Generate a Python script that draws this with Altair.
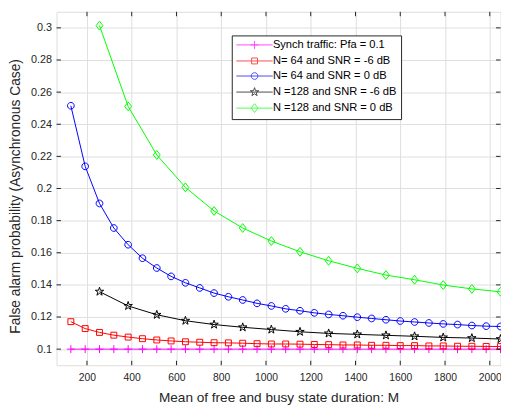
import altair as alt
import pandas as pd

# ---------------- data ----------------
M_step64 = [128, 192, 256, 320, 384, 448, 512, 576, 640, 704, 768, 832, 896, 960, 1024,
            1088, 1152, 1216, 1280, 1344, 1408, 1472, 1536, 1600, 1664, 1728, 1792, 1856,
            1920, 1984, 2048]
M_step128 = [256, 384, 512, 640, 768, 896, 1024, 1152, 1280, 1408, 1536, 1664, 1792, 1920, 2048]

pfa_sync = [0.1] * 31
pfa_n64_m6 = [0.1171, 0.1128, 0.1104, 0.1087, 0.1075, 0.1065, 0.1057, 0.1051, 0.1046, 0.1043,
              0.1040, 0.1039, 0.1037, 0.1034, 0.1032, 0.1032, 0.1031, 0.1029, 0.1028, 0.1026,
              0.1026, 0.1024, 0.1024, 0.1022, 0.1022, 0.1020, 0.1020, 0.1018, 0.1018, 0.1017,
              0.1016]
pfa_n64_0 = [0.2515, 0.2138, 0.1907, 0.1754, 0.1650, 0.1566, 0.1505, 0.1453, 0.1413, 0.1381,
             0.1349, 0.1326, 0.1306, 0.1285, 0.1269, 0.1251, 0.1239, 0.1226, 0.1216, 0.1208,
             0.1199, 0.1191, 0.1183, 0.1175, 0.1169, 0.1163, 0.1157, 0.1153, 0.1147, 0.1143,
             0.1141]
pfa_n128_m6 = [0.1358, 0.1269, 0.1214, 0.1177, 0.1153, 0.1136, 0.1122, 0.1108, 0.1098, 0.1092,
               0.1086, 0.1080, 0.1073, 0.1069, 0.1063]
pfa_n128_0 = [0.3014, 0.2511, 0.2209, 0.2007, 0.1860, 0.1754, 0.1673, 0.1606, 0.1550, 0.1503,
              0.1461, 0.1432, 0.1399, 0.1375, 0.1357]

series_names = ["Synch traffic: Pfa = 0.1", "N= 64 and SNR = -6 dB", "N= 64 and SNR = 0 dB",
                "N =128 and SNR = -6 dB", "N =128 and SNR = 0 dB"]
series_colors = ["#ff00ff", "#ff0000", "#0000ff", "#000000", "#00ff00"]
series_x = [M_step64, M_step64, M_step64, M_step128, M_step128]
series_y = [pfa_sync, pfa_n64_m6, pfa_n64_0, pfa_n128_m6, pfa_n128_0]

x_ticks = [200, 400, 600, 800, 1000, 1200, 1400, 1600, 1800, 2000]
y_ticks = [0.1, 0.12, 0.14, 0.16, 0.18, 0.2, 0.22, 0.24, 0.26, 0.28, 0.3]

x_title = "Mean of free and busy state duration: M"
y_title = "False alarm probability (Asynchronous Case)"

# ---------------- marker shapes (size=100 -> 5 px per unit) ----------------
plus_p = "M0,-0.8V0.8M-0.8,0H0.8"
square_p = "M-0.6,-0.6H0.6V0.6H-0.6Z"
circle_p = "M0.68,0A0.68,0.68,0,1,1,-0.68,0A0.68,0.68,0,1,1,0.68,0Z"
star_pts = [(0, -1), (0.2245, -0.309), (0.9511, -0.309), (0.3633, 0.118), (0.5878, 0.809),
            (0, 0.382), (-0.5878, 0.809), (-0.3633, 0.118), (-0.9511, -0.309), (-0.2245, -0.309)]
star_p = "M" + "L".join(f"{x*0.9:.3f},{y*0.9:.3f}" for x, y in star_pts) + "Z"
diamond_p = "M0,-0.9L0.7,0L0,0.9L-0.7,0Z"
marker_paths = [plus_p, square_p, circle_p, star_p, diamond_p]
legend_paths = ["M-3.7,0H3.7" + p for p in marker_paths]

W, H = 451, 359
xdom = [64, 2048]
ydom = [0.09, 0.31]
ink = "#262626"
FONT = "Liberation Sans"

xscale = alt.Scale(domain=xdom, nice=False, zero=False)
yscale = alt.Scale(domain=ydom, nice=False, zero=False)

x_axis = alt.Axis(values=x_ticks, format="d", grid=True, gridColor="#dedede", gridWidth=1,
                  ticks=False, tickSize=0, domain=False, labelFont=FONT,
                  labelFontSize=10.5, labelColor=ink, labelPadding=8, title=x_title,
                  titleFont=FONT, titleFontSize=13.8, titleFontWeight="normal",
                  titleColor=ink, titleBaseline="alphabetic", titleY=36.4)
y_axis = alt.Axis(values=y_ticks, format="~g", grid=True, gridColor="#dedede", gridWidth=1,
                  ticks=False, tickSize=0, domain=False, labelFont=FONT,
                  labelFontSize=11, labelColor=ink, labelPadding=5, title=y_title,
                  titleFont=FONT, titleFontSize=14, titleFontWeight="normal",
                  titleColor=ink, titleBaseline="alphabetic", titleX=-38, titleY=187)

rows = []
for name, xs, ys in zip(series_names, series_x, series_y):
    for xv, yv in zip(xs, ys):
        rows.append({"series": name, "M": xv, "pfa": yv})
df = pd.DataFrame(rows)

xenc = alt.X("M:Q", scale=xscale, axis=x_axis, title=x_title)
yenc = alt.Y("pfa:Q", scale=yscale, axis=y_axis, title=y_title)

layers = []
for name, col, mp in zip(series_names, series_colors, marker_paths):
    base = alt.Chart(df).transform_filter(alt.datum.series == name)
    layers.append(base.mark_line(color=col, strokeWidth=1).encode(x=xenc, y=yenc))
    layers.append(base.mark_point(shape=mp, size=100, color=col, filled=False,
                                  strokeWidth=1, opacity=1).encode(x=xenc, y=yenc))

# inward ticks on all four sides
xt = pd.DataFrame({"M": x_ticks})
yt = pd.DataFrame({"pfa": y_ticks})
tick_len = 4.5
layers.append(alt.Chart(xt).mark_rule(color=ink, strokeWidth=1).encode(
    x=xenc, y=alt.value(H), y2=alt.value(H - tick_len)))
layers.append(alt.Chart(xt).mark_rule(color=ink, strokeWidth=1).encode(
    x=xenc, y=alt.value(0), y2=alt.value(tick_len)))
layers.append(alt.Chart(yt).mark_rule(color=ink, strokeWidth=1).encode(
    y=yenc, x=alt.value(0), x2=alt.value(tick_len)))
layers.append(alt.Chart(yt).mark_rule(color=ink, strokeWidth=1).encode(
    y=yenc, x=alt.value(W), x2=alt.value(W - tick_len)))

# legend carrier (no marks drawn)
leg = alt.Legend(title=None, orient="none", legendX=178, legendY=24, fillColor="white",
                 strokeColor=ink, padding=4, labelFont=FONT, labelFontSize=11.3,
                 labelColor="black", symbolStrokeWidth=1, symbolSize=100, rowPadding=3.3,
                 symbolOffset=13.5, labelOffset=13, labelLimit=400)
layers.append(alt.Chart(df).transform_filter("false").mark_point(size=100, filled=False,
                                                                  strokeWidth=1).encode(
    x=xenc, y=yenc,
    color=alt.Color("series:N", scale=alt.Scale(domain=series_names, range=series_colors), legend=leg),
    shape=alt.Shape("series:N", scale=alt.Scale(domain=series_names, range=legend_paths), legend=leg),
))

chart = alt.layer(*layers).properties(
    width=W, height=H,
    autosize=alt.AutoSizeParams(type="none"),
    padding={"left": 49.3, "top": 0.7, "right": 0.5, "bottom": 40},
).configure_view(stroke=ink, strokeWidth=1).configure(background="white")

chart.save("out.html", embed_options={"renderer": "svg", "actions": False})
